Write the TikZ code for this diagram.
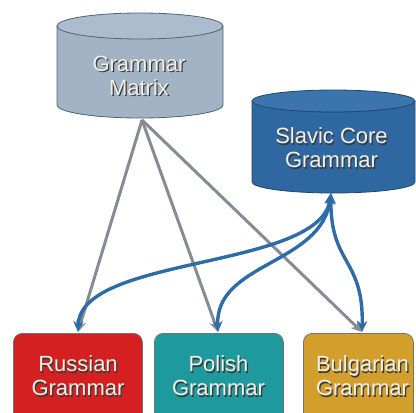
\documentclass[tikz,border=0pt]{standalone}
\usepackage{fontspec}
\setmainfont{Liberation Sans}
\usetikzlibrary{arrows.meta}
\definecolor{gmbody}{HTML}{A2B3C6}
\definecolor{gmtop}{HTML}{ABBCCE}
\definecolor{gmline}{HTML}{4F6275}
\definecolor{scbody}{HTML}{2F68A0}
\definecolor{sctop}{HTML}{3C74AC}
\definecolor{scline}{HTML}{1D4770}
\definecolor{rus}{HTML}{D42020}
\definecolor{pol}{HTML}{1E9A9E}
\definecolor{bul}{HTML}{D39F2C}
\definecolor{grayarr}{HTML}{858C96}
\definecolor{bluearr}{HTML}{2D6CA6}
\definecolor{txt}{HTML}{F2EFE6}
\definecolor{txtshd}{HTML}{3A3A3A}
\begin{document}
\begin{tikzpicture}[x=1pt,y=-1pt,
  lbl/.style={align=center, text=txt, font=\fontsize{22}{24}\selectfont, inner sep=0pt},
  shd/.style={align=center, text=txtshd, font=\fontsize{22}{24}\selectfont, inner sep=0pt},
  gbox/.style={draw=black!55, line width=0.8pt, rounded corners=9pt, anchor=north west, inner sep=0pt},
  garrow/.style={draw=grayarr, line width=3pt, -{Stealth[length=11pt,width=10pt]}},
  barrow/.style={draw=bluearr, line width=3.4pt, {Stealth[length=11pt,width=10pt]}-{Stealth[length=11pt,width=10pt]}}]
\useasboundingbox (0,0) rectangle (416,413);
\clip (0,0) rectangle (416,413);
% Grammar Matrix cylinder
\filldraw[fill=gmbody, draw=gmline, line width=0.8pt] (57,26) -- (57,105) arc[start angle=180, end angle=0, x radius=83, y radius=13] -- (223,26) -- cycle;
\filldraw[fill=gmtop, draw=gmline, line width=0.8pt] (140,26) ellipse [x radius=83, y radius=13];
% Slavic Core cylinder
\filldraw[fill=scbody, draw=scline, line width=0.8pt] (252,101) -- (252,182) arc[start angle=180, end angle=0, x radius=81.5, y radius=11] -- (415,101) -- cycle;
\filldraw[fill=sctop, draw=scline, line width=0.8pt] (333.5,101) ellipse [x radius=81.5, y radius=11];
% boxes
\node[gbox, fill=rus, minimum width=129pt, minimum height=100pt] (rusbox) at (13,333) {};
\node[gbox, fill=pol, minimum width=129pt, minimum height=100pt] (polbox) at (154,333) {};
\node[gbox, fill=bul, minimum width=110pt, minimum height=100pt] (bulbox) at (303,333) {};
% labels
\node[shd] (gmS) at (140.2,77.2) {Grammar\\Matrix};
\node[lbl] (gm) at (139,76) {Grammar\\Matrix};
\node[shd] (scS) at (332.7,149.2) {Slavic Core\\Grammar};
\node[lbl] (sc) at (331.5,148) {Slavic Core\\Grammar};
\node[shd] (rusS) at (79.2,377.2) {Russian\\Grammar};
\node[lbl] (rus) at (78,376) {Russian\\Grammar};
\node[shd] (polS) at (219.7,377.2) {Polish\\Grammar};
\node[lbl] (pol) at (218.5,376) {Polish\\Grammar};
\node[shd] (bulS) at (363.7,377.2) {Bulgarian\\Grammar};
\node[lbl] (bul) at (362.5,376) {Bulgarian\\Grammar};
% connector points
\coordinate (gmb) at (142,120);
\coordinate (scb) at (331,193);
\coordinate (rt) at (78,332);
\coordinate (pt) at (218,332);
\coordinate (bt) at (362,332);
% gray arrows
\draw[garrow] (gmb) -- (rt);
\draw[garrow] (gmb) -- (pt);
\draw[garrow] (gmb) -- (bt);
% blue arrows
\draw[barrow] (scb) .. controls (320,270) and (80,255) .. (rt);
\draw[barrow] (scb) .. controls (322,265) and (215,262) .. (pt);
\draw[barrow] (scb) .. controls (330,265) and (364,258) .. (bt);
\end{tikzpicture}
\end{document}
